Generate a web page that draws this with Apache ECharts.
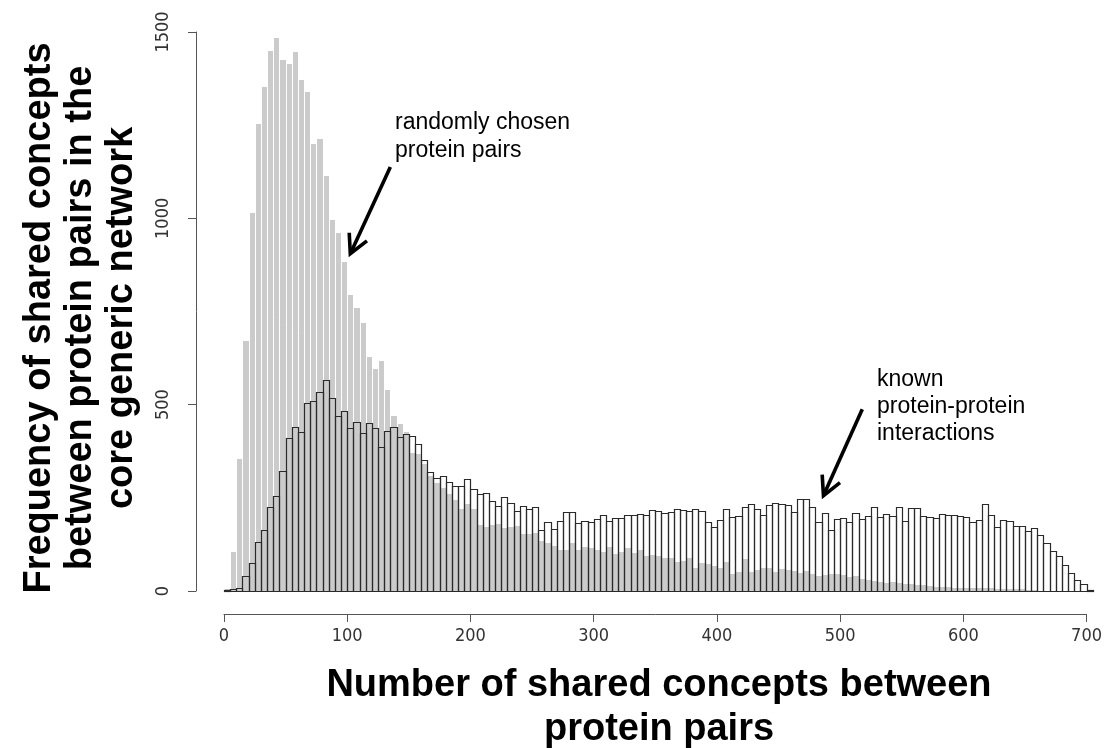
<!DOCTYPE html>
<html><head><meta charset="utf-8">
<script src="https://cdn.jsdelivr.net/npm/echarts@6/dist/echarts.min.js"></script>
<style>html,body{margin:0;padding:0;background:#fff}#c{width:1105px;height:748px}</style>
</head><body><div id="c"></div>
<script>
// ---- data ----
var binWidth = 5; // histogram bin width (shared concepts)
var randomCounts = [8,108,358,673,1018,1257,1356,1453,1487,1428,1418,1449,1374,1342,1201,1215,1116,998,964,886,
  797,761,723,631,599,620,541,472,450,430,374,369,343,311,293,280,264,246,222,235,
  222,180,174,179,182,173,174,176,155,155,157,137,132,123,114,114,132,114,121,119,
  114,108,122,103,106,119,104,114,96,98,97,92,92,81,83,92,65,79,74,70,
  64,80,47,55,88,53,58,65,65,53,61,59,56,52,56,47,43,46,49,47,
  46,41,43,36,32,30,28,25,27,25,22,21,19,18,16,14,14,13,12,12,
  12,11,11,10,10,9,9,8,8,7,6,5,4,3,3,2,2,1,1,0,0];
var knownCounts = [2,5,8,41,76,131,165,226,255,322,410,441,426,504,510,533,566,519,470,482,
  438,453,425,452,437,387,430,441,412,421,417,394,351,320,302,308,293,282,282,301,
  274,261,262,242,229,253,236,216,229,221,225,165,184,167,189,213,213,182,189,185,
  193,203,189,197,197,203,203,207,203,217,215,208,212,221,218,214,221,216,186,173,
  190,219,198,200,225,233,220,203,232,236,234,232,213,248,248,226,186,208,164,192,
  196,186,209,194,200,226,199,207,201,225,189,224,222,201,199,197,206,204,203,201,
  199,186,191,233,204,173,191,188,175,175,161,170,150,130,107,94,69,47,29,18,3];
var xTickLabels = ['0','100','200','300','400','500','600','700'];
var yTickLabels = ['0','500','1000','1500'];
var xTitle = ['Number of shared concepts between', 'protein pairs'];
var yTitle = ['Frequency of shared concepts', 'between protein pairs in the', 'core generic network'];
var noteRandom = ['randomly chosen', 'protein pairs'];
var noteKnown = ['known', 'protein-protein', 'interactions'];

function toBins(counts) {
  return counts.map(function (v, i) { return [i * binWidth, (i + 1) * binWidth, v]; });
}
function histRender(fill, stroke, lw) {
  return function (params, api) {
    var a = api.coord([api.value(0), 0]);
    var b = api.coord([api.value(1), api.value(2)]);
    var x0 = Math.round(a[0]) + 0.5, x1 = Math.round(b[0]) + 0.5;
    var y0 = Math.round(a[1]) + 0.5, y1 = Math.round(b[1]) + 0.5;
    return {type: 'rect', shape: {x: x0, y: y1, width: x1 - x0, height: y0 - y1},
      style: {fill: fill, stroke: stroke, lineWidth: lw}};
  };
}

var chart = echarts.init(document.getElementById('c'), null, {renderer: 'canvas'});
var axisFont = '"Liberation Sans Narrow", "DejaVu Sans Condensed", "Liberation Sans", sans-serif';
chart.setOption({
  animation: false,
  backgroundColor: '#fff',
  grid: {left: 224, right: 18, top: 32, bottom: 157, containLabel: false},
  xAxis: {
    type: 'value', min: 0, max: 700, interval: 100, offset: 23,
    splitLine: {show: false},
    axisLine: {show: true, onZero: false, lineStyle: {color: '#555', width: 1}},
    axisTick: {show: true, length: 8, lineStyle: {color: '#555'}},
    axisLabel: {color: '#333', fontSize: 18, fontFamily: axisFont, margin: 13,
      formatter: function (v) { return xTickLabels[Math.round(v / 100)]; }}
  },
  yAxis: {
    type: 'value', min: 0, max: 1500, interval: 500, offset: 28,
    splitLine: {show: false},
    axisLine: {show: true, onZero: false, lineStyle: {color: '#555', width: 1}},
    axisTick: {show: true, length: 8, lineStyle: {color: '#555'}},
    axisLabel: {color: '#333', fontSize: 18, fontFamily: axisFont, margin: 24, rotate: 90,
      formatter: function (v) { return yTickLabels[Math.round(v / 500)]; }}
  },
  series: [
    {type: 'custom', name: 'random', data: toBins(randomCounts), encode: {x: [0, 1], y: 2},
      renderItem: histRender('#cbcbcb', '#ffffff', 1), clip: false, z: 2},
    {type: 'custom', name: 'known', data: toBins(knownCounts), encode: {x: [0, 1], y: 2},
      renderItem: histRender('none', '#2a2a2a', 1.2), clip: false, z: 3}
  ]
});

// annotations and titles
var titleFont = 'bold 38px "Liberation Sans", Arial, sans-serif';
var noteFont = '23px "Liberation Sans", Arial, sans-serif';
function txt(s, x, y, font, align, rot) {
  return {type: 'text', x: x, y: y, rotation: rot || 0, z: 10,
    style: {text: s, font: font, fill: '#000', align: align, textAlign: align,
      verticalAlign: 'middle', textVerticalAlign: 'middle'}};
}
function arrow(fromData, toData) {
  var p = chart.convertToPixel({gridIndex: 0}, fromData);
  var q = chart.convertToPixel({gridIndex: 0}, toData);
  var dx = q[0] - p[0], dy = q[1] - p[1], L = Math.sqrt(dx * dx + dy * dy);
  var ux = dx / L, uy = dy / L, h = 21, ang = Math.PI / 6.5;
  function arm(s) {
    var c = Math.cos(s * ang), sn = Math.sin(s * ang);
    var rx = -(ux * c - uy * sn), ry = -(ux * sn + uy * c);
    return [q[0] + rx * h, q[1] + ry * h];
  }
  var style = {stroke: '#000', lineWidth: 3.6, fill: null, lineCap: 'butt', lineJoin: 'miter'};
  return [
    {type: 'line', z: 10, shape: {x1: p[0], y1: p[1], x2: q[0] - ux * 2, y2: q[1] - uy * 2}, style: style},
    {type: 'polyline', z: 10, shape: {points: [arm(1), q, arm(-1)]}, style: style}
  ];
}
var els = [];
els.push(txt(xTitle[0], 659, 686, titleFont, 'center'));
els.push(txt(xTitle[1], 659, 730, titleFont, 'center'));
els.push(txt(yTitle[0], 40, 318, titleFont, 'center', Math.PI / 2));
els.push(txt(yTitle[1], 81, 318, titleFont, 'center', Math.PI / 2));
els.push(txt(yTitle[2], 122, 318, titleFont, 'center', Math.PI / 2));
els.push(txt(noteRandom[0], 395, 123, noteFont, 'left'));
els.push(txt(noteRandom[1], 395, 151, noteFont, 'left'));
els.push(txt(noteKnown[0], 877, 380, noteFont, 'left'));
els.push(txt(noteKnown[1], 877, 407, noteFont, 'left'));
els.push(txt(noteKnown[2], 877, 434, noteFont, 'left'));
els = els.concat(arrow([135, 1138], [102.5, 905]));
els = els.concat(arrow([518, 488], [486.5, 256]));
chart.setOption({graphic: {elements: els}});
</script></body></html>
